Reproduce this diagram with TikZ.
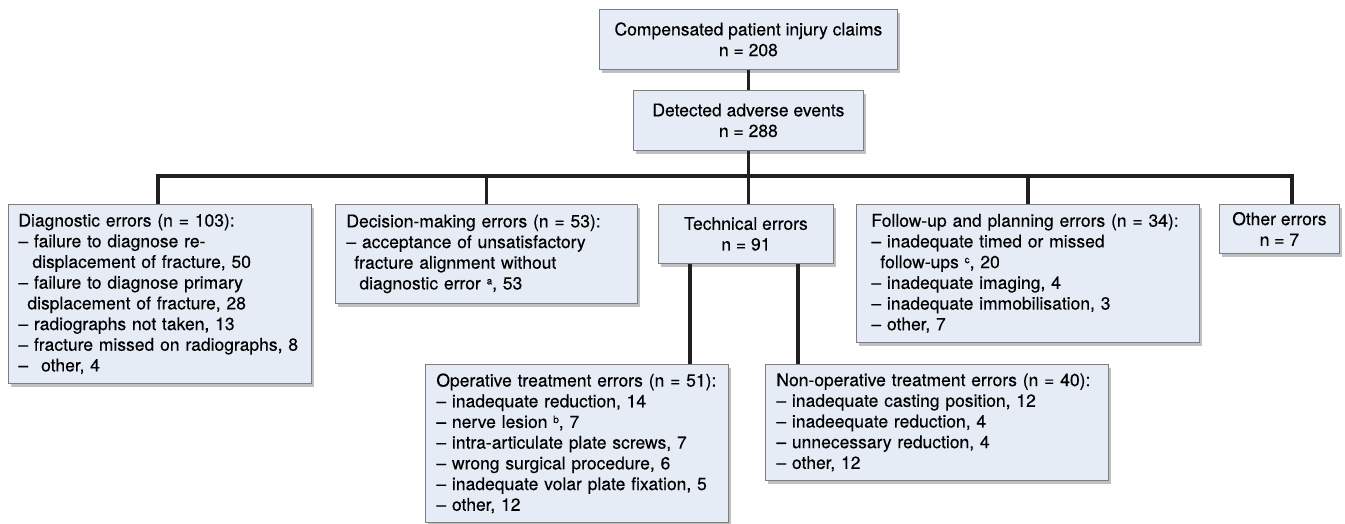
\documentclass[tikz,border=0pt]{standalone}
\usepackage{fontspec}
\setmainfont{TeX Gyre Heros}
\usepackage{xcolor}
\usepackage{tikz}
\usetikzlibrary{calc}
\usetikzlibrary{positioning}
\usetikzlibrary{shadows}

\definecolor{boxfill}{HTML}{E6ECF6}
\definecolor{boxedge}{HTML}{7D7D7D}
\definecolor{linkcol}{HTML}{231F20}
\newcommand{\boxfont}{\fontsize{17.5}{20.7}\selectfont\addfontfeatures{FakeBold=0.3}}
\newcommand{\fnmark}[1]{\raisebox{5pt}{\fontsize{10}{10}\selectfont #1}}

\begin{document}
\begin{tikzpicture}[x=1pt, y=-1pt,
	link/.style={draw=linkcol, line width=3.6pt},
	base/.style={draw=boxedge, fill=boxfill, line width=0.8pt, anchor=north west,
				font=\boxfont, inner ysep=0pt,
				drop shadow={shadow xshift=3pt, shadow yshift=-4pt, fill=black!55, opacity=0.45}},
	cbox/.style={base, align=center, inner xsep=0pt},
	lbox/.style={base, align=left, inner xsep=11pt},
]
\useasboundingbox (0,0) rectangle (1345,524);
%
\node [cbox, minimum width=298pt, minimum height=60pt] (claims) at (599,9)
	{Compensated patient injury claims\\n = 208};
\node [cbox, minimum width=230pt, minimum height=60pt] (events) at (633,90)
	{Detected adverse events\\n = 288};
\node [lbox, text width=283pt, minimum height=179pt, inner xsep=10pt] (diag) at (8,204)
	{Diagnostic errors (n = 103):\\
	– failure to diagnose re-\\
	\hspace*{14pt}displacement of fracture, 50\\
	– failure to diagnose primary\\
	\hspace*{9pt}displacement of fracture, 28\\
	– radiographs not taken, 13\\
	– fracture missed on radiographs, 8\\
	–\hspace{13pt}other, 4};
\node [lbox, text width=280pt, minimum height=99pt] (decis) at (335,204)
	{Decision-making errors (n = 53):\\
	– acceptance of unsatisfactory\\
	\hspace*{8pt}fracture alignment without\\
	\hspace*{13pt}diagnostic error \fnmark{a}, 53};
\node [cbox, minimum width=175pt, minimum height=59pt] (tech) at (658,204)
	{Technical errors\\n = 91};
\node [lbox, text width=313pt, minimum height=138pt, inner xsep=15pt] (follow) at (856,204)
	{Follow-up and planning errors (n = 34):\\
	– inadequate timed or missed\\
	\hspace*{9pt}follow-ups \fnmark{c}, 20\\
	– inadequate imaging, 4\\
	– inadequate immobilisation, 3\\
	– other, 7};
\node [cbox, minimum width=120pt, minimum height=49pt] (other) at (1219,204)
	{Other errors\\n = 7};
\node [lbox, text width=281pt, minimum height=158pt] (oper) at (425,364)
	{Operative treatment errors (n = 51):\\
	– inadequate reduction, 14\\
	– nerve lesion \fnmark{b}, 7\\
	– intra-articulate plate screws, 7\\
	– wrong surgical procedure, 6\\
	– inadequate volar plate fixation, 5\\
	– other, 12};
\node [lbox, text width=321pt, minimum height=116pt] (nonop) at (765,364)
	{Non-operative treatment errors (n = 40):\\
	– inadequate casting position, 12\\
	– inadeequate reduction, 4\\
	– unnecessary reduction, 4\\
	– other, 12};
%
\coordinate (barL) at (158,176);
\coordinate (barR) at (1292,176);
\draw [link] (claims.south) -- (events.north);
\draw [link] (barL |- diag.north) -- (barL) -- (barR) -- (barR |- other.north);
\draw [link] (events.south) -- (events.south |- tech.north);
\draw [link] (decis.north) -- (decis.north |- barL);
\draw [link] (follow.north) -- (follow.north |- barL);
\draw [link] ([xshift=32pt]tech.south west) -- ([xshift=32pt]tech.south west |- oper.north);
\draw [link] ([xshift=-36pt]tech.south east) -- ([xshift=-36pt]tech.south east |- nonop.north);
\end{tikzpicture}
\end{document}
